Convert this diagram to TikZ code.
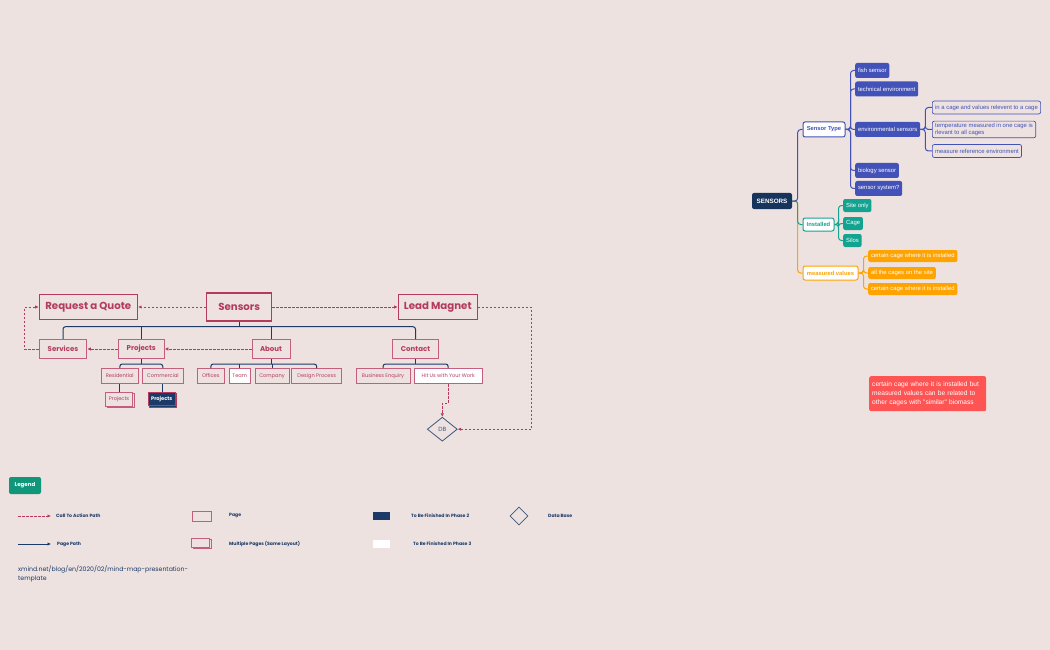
\documentclass[tikz,border=0pt]{standalone}
\usepackage{fontspec}
\setmainfont{Poppins}
\newfontfamily\mmfont{Liberation Sans}
\usetikzlibrary{shapes.geometric,arrows.meta,shadows}
\definecolor{bg}{RGB}{237,226,223}
\definecolor{pinkc}{RGB}{180,58,94}
\definecolor{pinkb}{RGB}{196,94,126}
\definecolor{navyc}{RGB}{28,58,104}
\definecolor{dbblue}{RGB}{60,88,130}
\definecolor{mmnavy}{RGB}{22,52,92}
\definecolor{mmblue}{RGB}{66,82,184}
\definecolor{mmteal}{RGB}{18,164,144}
\definecolor{mmorange}{RGB}{255,163,0}
\definecolor{notered}{RGB}{255,84,84}
\definecolor{legteal}{RGB}{16,150,122}
\tikzset{
  page/.style={draw=pinkb, line width=1pt, text=pinkc, fill=bg, inner sep=0pt},
  bigpage/.style={page, draw=pinkc, line width=1.3pt, minimum height=24.5pt, font=\fontsize{10.2}{12}\selectfont\bfseries},
  midpage/.style={page, minimum height=19pt, font=\fontsize{7}{8}\selectfont\bfseries},
  smallpage/.style={page, minimum height=15pt, font=\fontsize{5.1}{6}\selectfont},
  multipage/.style={copy shadow={shadow xshift=1.5pt, shadow yshift=-1.5pt}},
  tree/.style={draw=navyc, line width=1pt, rounded corners=2.5pt},
  cta/.style={draw=pinkc, line width=0.9pt, dash pattern=on 2.5pt off 1.5pt, -{Latex[length=3.5pt,width=3.5pt]}},
  leglabel/.style={anchor=west, inner sep=0pt, text=navyc, font=\fontsize{4.6}{5}\selectfont\bfseries},
  mmsub/.style={fill=white, line width=1pt, rounded corners=2pt, inner sep=0pt, font=\mmfont\bfseries\fontsize{5.8}{6}\selectfont},
  bleaf/.style={fill=mmblue, text=white, rounded corners=2pt, anchor=west, inner xsep=2.8pt, inner ysep=0pt, minimum height=15pt, font=\mmfont\fontsize{5.9}{6}\selectfont},
  bout/.style={draw=mmblue, line width=0.7pt, text=mmblue, fill=bg, rounded corners=2pt, anchor=west, inner xsep=2.8pt, inner ysep=2pt, minimum height=13pt, align=left, font=\mmfont\fontsize{5.9}{7.2}\selectfont},
  tleaf/.style={bleaf, fill=mmteal, minimum height=13pt},
  oleaf/.style={bleaf, fill=mmorange, minimum height=12pt},
  mmline/.style={line width=1pt, rounded corners=3pt},
}
\begin{document}
\begin{tikzpicture}[x=1pt,y=-1pt]
\fill[bg] (0,0) rectangle (1050,650);
\useasboundingbox (0,0) rectangle (1050,650);

% ---------------- site map ----------------
\node[bigpage, minimum width=98pt] (quote) at (88.3,307) {Request a Quote};
\node[bigpage, minimum width=65pt, minimum height=28pt] (sensors) at (239.2,307) {Sensors};
\node[bigpage, minimum width=79pt] (lead) at (437.8,307) {Lead Magnet};
\node[midpage, minimum width=47.5pt] (services) at (63,349) {Services};
\node[midpage, minimum width=46pt] (projects) at (141.3,349) {Projects};
\node[midpage, minimum width=38pt] (about) at (271,349) {About};
\node[midpage, minimum width=45.5pt] (contact) at (415.5,349) {Contact};
\node[smallpage, minimum width=37pt] (resid) at (119.8,376) {Residential};
\node[smallpage, minimum width=41pt] (comm) at (162.8,376) {Commercial};
\node[smallpage, minimum width=26.5pt] (offices) at (210.8,376) {Offices};
\node[smallpage, minimum width=21.5pt, fill=white] (team) at (239.8,376) {Team};
\node[smallpage, minimum width=34pt] (company) at (272,376) {Company};
\node[smallpage, minimum width=50pt] (design) at (316.7,376) {Design Process};
\node[smallpage, minimum width=54pt] (business) at (383,376) {Business Enquiry};
\node[smallpage, minimum width=68pt, fill=white] (hit) at (448.2,376) {Hit Us with Your Work};
\node[smallpage, multipage, minimum width=27pt, minimum height=14pt] (proj1) at (119,399) {Projects};
\node[smallpage, multipage, draw=pinkc, minimum width=27pt, minimum height=13.5pt, fill=navyc, text=white, font=\fontsize{5.1}{6}\selectfont\bfseries] (proj2) at (161.7,399) {Projects};
\node[diamond, draw=dbblue, line width=0.8pt, minimum width=30pt, minimum height=24pt, inner sep=0pt, text=dbblue, font=\fontsize{6}{7}\selectfont] (db) at (442.3,429.2) {DB};

\coordinate (bus) at (239.2,326.7);
\draw[tree] (services.north) |- (bus) -| (contact.north);
\draw[tree] (sensors.south) -- (bus);
\draw[tree] (projects.north) -- (projects.north |- bus);
\draw[tree] (about.north) -- (about.north |- bus);
\coordinate (pbus) at (141.3,364);
\draw[tree] (resid.north) |- (pbus) -| (comm.north);
\draw[tree] (projects.south) -- (pbus);
\coordinate (abus) at (271,364);
\draw[tree] (offices.north) |- (abus) -| (design.north);
\draw[tree] (about.south) -- (abus);
\draw[tree] (company.north) -- (company.north |- abus);
\draw[tree] (team.north) -- (team.north |- abus);
\coordinate (cbus) at (415.5,364);
\draw[tree] (business.north) |- (cbus) -| (hit.north);
\draw[tree] (contact.south) -- (cbus);
\draw[tree] (resid.south) -- (resid.south |- proj1.north);
\draw[tree] (comm.south) -- (comm.south |- proj2.north);

\draw[cta] (sensors.west) -- (quote.east);
\draw[cta] (sensors.east) -- (lead.west);
\draw[cta] (about.west) -- (projects.east);
\draw[cta] (projects.west) -- (services.east);
\draw[cta] (services.west) -- ++(-14,0) |- (quote.west);
\draw[cta] (lead.east) -- ++(53.5,0) |- (db.east);
\draw[cta] (hit.south) -- ++(0,19) -| (db.north);

% ---------------- legend ----------------
\node[fill=legteal, rounded corners=2pt, text=white, font=\fontsize{5.5}{6}\selectfont\bfseries, minimum width=32pt, minimum height=17pt, inner sep=0pt] (legend) at (25,485.5) {Legend};
\coordinate (c1a) at (18,516); \coordinate (c1b) at (51,516);
\draw[cta] (c1a) -- (c1b);
\node[leglabel] (l1) at (56,516) {Call To Action Path};
\coordinate (c2a) at (18,544); \coordinate (c2b) at (51,544);
\draw[draw=navyc, line width=1pt, -{Latex[length=3.5pt,width=3.5pt]}] (c2a) -- (c2b);
\node[leglabel] (l2) at (57,544) {Page Path};
\node[anchor=north west, inner sep=0pt, text=navyc, align=left, font=\fontsize{6.2}{9.5}\selectfont] (url) at (18,565) {xmind.net/blog/en/2020/02/mind-map-presentation-\\template};
\node[draw=pinkb, line width=1pt, minimum width=19pt, minimum height=10pt, inner sep=0pt] (lpage) at (201.5,516) {};
\node[leglabel] (l3) at (229,516) {Page};
\node[draw=pinkb, fill=bg, line width=1pt, minimum width=18pt, minimum height=9pt, inner sep=0pt, multipage] (lmulti) at (200.5,542.5) {};
\node[leglabel] (l4) at (229,544) {Multiple Pages (Same Layout)};
\node[fill=navyc, minimum width=17pt, minimum height=8pt, inner sep=0pt] (lnavy) at (381.5,516) {};
\node[leglabel] (l5) at (411,516) {To Be Finished In Phase 2};
\node[fill=white, minimum width=17pt, minimum height=8pt, inner sep=0pt] (lwhite) at (381.5,544) {};
\node[leglabel] (l6) at (413,544) {To Be Finished In Phase 3};
\node[diamond, draw=dbblue, line width=0.8pt, minimum width=18pt, minimum height=18pt, inner sep=0pt] (ldb) at (519,516) {};
\node[leglabel] (l7) at (548,516) {Data Base};

% ---------------- mind map ----------------
\node[fill=mmnavy, rounded corners=2pt, text=white, inner sep=0pt, minimum width=40pt, minimum height=16pt, font=\mmfont\bfseries\fontsize{6.3}{7}\selectfont] (root) at (772,201) {SENSORS};
\node[mmsub, draw=mmblue, text=mmblue, minimum width=42pt, minimum height=15pt] (stype) at (824,129.5) {Sensor Type};
\node[mmsub, draw=mmteal, text=mmteal, minimum width=31pt, minimum height=13pt] (inst) at (818.5,224.5) {Installed};
\node[mmsub, draw=mmorange, text=mmorange, minimum width=55pt, minimum height=14pt] (meas) at (830.5,273) {measured values};

\node[bleaf] (fish) at (855,70.5) {fish sensor};
\node[bleaf] (tech) at (855,89) {technical environment};
\node[bleaf] (env) at (855,129.5) {environmental sensors};
\node[bleaf] (bio) at (855,170.5) {biology sensor};
\node[bleaf] (ssys) at (855,188.5) {sensor system?};

\node[bout] (e1) at (932,107.5) {in a cage and values relevent to a cage};
\node[bout] (e2) at (932,129.5) {temperature measured in one cage is\\rlevant to all cages};
\node[bout] (e3) at (932,151) {measure reference environment};

\node[tleaf] (site) at (843,205.5) {Site only};
\node[tleaf] (cage) at (843,223.5) {Cage};
\node[tleaf] (silos) at (843,240.5) {Silos};

\node[oleaf] (o1) at (868,256) {certain cage where it is installed};
\node[oleaf] (o2) at (868,273) {all the cages on the site};
\node[oleaf] (o3) at (868,289) {certain cage where it is installed};

\draw[mmline, mmorange] (root.east) -- ++(5.5,0) |- (meas.west);
\draw[mmline, mmteal] (root.east) -- ++(5.5,0) |- (inst.west);
\draw[mmline, mmblue] (root.east) -- ++(5.5,0) |- (stype.west);
\foreach \n in {fish,tech,env,bio,ssys}
  \draw[mmline, mmblue] (stype.east) -- ++(5,0) |- (\n.west);
\foreach \n in {e1,e2,e3}
  \draw[mmline, mmblue] (env.east) -- ++(5,0) |- (\n.west);
\foreach \n in {site,cage,silos}
  \draw[mmline, mmteal] (inst.east) -- ++(4,0) |- (\n.west);
\foreach \n in {o1,o2,o3}
  \draw[mmline, mmorange] (meas.east) -- ++(5,0) |- (\n.west);

\node[fill=notered, rounded corners=2pt, text=white, anchor=north west, inner xsep=3pt, inner ysep=3pt, align=left, text width=111pt, minimum height=35pt, font=\mmfont\fontsize{6.6}{8.8}\selectfont] (note) at (869,376) {certain cage where it is installed but\\measured values can be related to\\other cages with "similar" biomass};
\end{tikzpicture}
\end{document}
